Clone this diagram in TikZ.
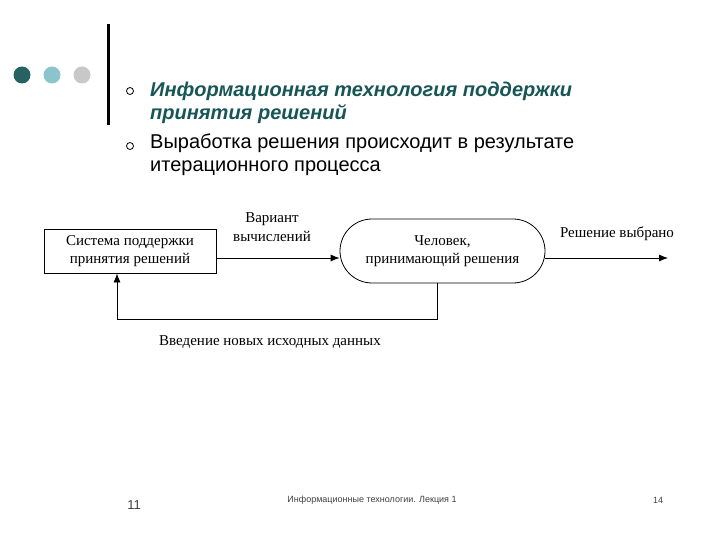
\documentclass[tikz,border=0pt]{standalone}
\usepackage{fontspec}
\setmainfont{Liberation Serif}
\setsansfont{Liberation Sans}
\usetikzlibrary{positioning,arrows.meta}

\definecolor{tealdark}{RGB}{38,98,98}
\definecolor{tealtext}{RGB}{24,86,86}
\definecolor{tealpale}{RGB}{140,196,204}
\definecolor{greydot}{RGB}{200,200,200}

\tikzset{
  blocktext/.style={font=\fontsize{15}{18.5}\selectfont, align=center, inner sep=0pt},
  flowarrow/.style={-{Latex[length=9pt,width=7pt]}, line width=0.8pt},
  bullettext/.style={anchor=base west, inner sep=0pt, font=\sffamily\fontsize{20}{22}\selectfont},
}

\begin{document}
\begin{tikzpicture}[x=1pt,y=-1pt]
  \useasboundingbox[fill=white] (0,0) rectangle (720,540);
%    \draw (0,0) grid[step=50] (720,540);
  % dots and bar
  \fill[tealdark] (22,75) circle (8.5);
  \fill[tealpale] (52,75) circle (8.5);
  \fill[greydot] (82,75) circle (8.5);
  \draw[line width=3pt] (108,24) -- (108,125);

  % bullet list
  \draw[line width=0.8pt] (130,91) circle (3.5);
  \draw[line width=0.8pt] (130,146) circle (3.5);
  \node[bullettext, text=tealtext, font=\sffamily\bfseries\itshape\fontsize{20}{22}\selectfont]
    (head1) at (150,97) {Информационная технология поддержки};
  \node[bullettext, text=tealtext, font=\sffamily\bfseries\itshape\fontsize{20}{22}\selectfont]
    (head2) at (150,120) {принятия решений};
  \node[bullettext] (line1) at (150,149) {Выработка решения происходит в результате};
  \node[bullettext] (line2) at (150,172) {итерационного процесса};

  % diagram
  \node[blocktext, draw, line width=0.8pt,
        minimum width=172pt, minimum height=44pt] (dss) at (130,251)
        {Система поддержки\\принятия решений};
  \node[blocktext, draw, line width=0.8pt,
        rounded corners=32pt,
        minimum width=205pt, minimum height=64pt] (human) at (442.5,251)
        {Человек,\\принимающий решения};
  \coordinate (out) at (668,258);
  \coordinate (down) at (437,319);
  \coordinate (back) at (117,319);

  \draw[flowarrow] (dss.east |- 0,258) -- (human.west |- 0,258);
  \draw[flowarrow] (human.east |- 0,258) -- (out);
  \draw[flowarrow] (human.south -| down) -- (down) -- (back) -- (dss.south -| back);

  \node[blocktext] (variant) at (272,227) {Вариант\\вычислений};
  \node[blocktext] (chosen) at (617,234) {Решение выбрано};
  \node[blocktext] (newdata) at (270,342) {Введение новых исходных данных};

  % footer
  \node[font=\sffamily\fontsize{13}{15}\selectfont, text=black!75] (slide) at (134,505) {11};
  \node[font=\sffamily\fontsize{9}{11}\selectfont, text=black!75] (title) at (372,500)
    {Информационные технологии. Лекция 1};
  \node[font=\sffamily\fontsize{9}{11}\selectfont, text=black!75] (page) at (658,500) {14};
\end{tikzpicture}
\end{document}
